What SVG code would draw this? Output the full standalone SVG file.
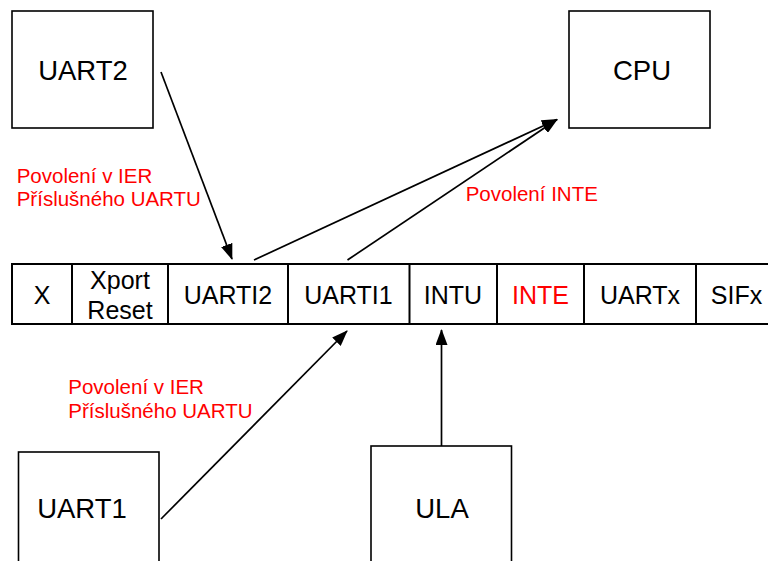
<svg xmlns="http://www.w3.org/2000/svg" width="768" height="561" viewBox="0 0 768 561">
<style>
.box{fill:#fff;stroke:#000;stroke-width:1.6}
.bar{fill:none;stroke:#000;stroke-width:2}
.t{font-family:"Liberation Sans",Arial,sans-serif;fill:#000;text-anchor:middle}
.big{font-size:27.5px}
.cell{font-size:25px}
.red{font-family:"Liberation Sans",Arial,sans-serif;fill:#ff0000;font-size:20.5px}
.conn{stroke:#000;stroke-width:1.7;fill:none}
</style>
<defs>
<marker id="ah" viewBox="0 0 16 12" refX="15" refY="6" markerWidth="16" markerHeight="12" markerUnits="userSpaceOnUse" orient="auto">
<path d="M0,0 L16,6 L0,12 z" fill="#000"/>
</marker>
</defs>
<rect width="768" height="561" fill="#fff"/>

<g id="uart2">
<rect class="box" x="12" y="11" width="141" height="117"/>
<text class="t big" x="83" y="80">UART2</text>
</g>
<g id="cpu">
<rect class="box" x="569" y="11" width="141" height="117"/>
<text class="t big" x="642" y="80">CPU</text>
</g>
<g id="uart1">
<rect class="box" x="18.5" y="452" width="140.5" height="120"/>
<text class="t big" x="82" y="518">UART1</text>
</g>
<g id="ula">
<rect class="box" x="371" y="446" width="140.5" height="126"/>
<text class="t big" x="442" y="518">ULA</text>
</g>

<g id="register">
<rect class="bar" x="12" y="264" width="770" height="60"/>
<line class="bar" x1="72" y1="264" x2="72" y2="324"/>
<line class="bar" x1="168" y1="264" x2="168" y2="324"/>
<line class="bar" x1="288" y1="264" x2="288" y2="324"/>
<line class="bar" x1="409.5" y1="264" x2="409.5" y2="324"/>
<line class="bar" x1="497" y1="264" x2="497" y2="324"/>
<line class="bar" x1="584" y1="264" x2="584" y2="324"/>
<line class="bar" x1="696" y1="264" x2="696" y2="324"/>
<text class="t cell" x="42" y="304">X</text>
<text class="t cell" x="120" y="289">Xport</text>
<text class="t cell" x="120" y="319">Reset</text>
<text class="t cell" x="228" y="304">UARTI2</text>
<text class="t cell" x="348.5" y="304">UARTI1</text>
<text class="t cell" x="453" y="304">INTU</text>
<text class="t cell" x="540.5" y="304" fill="#ff0000" style="fill:#ff0000">INTE</text>
<text class="t cell" x="640" y="304">UARTx</text>
<text class="t cell" x="736.5" y="304">SIFx</text>
</g>

<g id="connectors">
<line class="conn" x1="161" y1="72" x2="232" y2="259" marker-end="url(#ah)"/>
<line class="conn" x1="254" y1="260" x2="557" y2="119.5" marker-end="url(#ah)"/>
<line class="conn" x1="347.5" y1="260" x2="557" y2="119.5" marker-end="url(#ah)"/>
<line class="conn" x1="161" y1="519" x2="347" y2="331" marker-end="url(#ah)"/>
<line class="conn" x1="441.5" y1="446" x2="441.5" y2="330" marker-end="url(#ah)"/>
</g>

<g id="labels">
<text class="red" x="16.7" y="182.5">Povolení v IER</text>
<text class="red" x="16.7" y="205.5">Příslušného UARTU</text>
<text class="red" x="465.7" y="200.7">Povolení INTE</text>
<text class="red" x="68.3" y="394.3">Povolení v IER</text>
<text class="red" x="68.3" y="417.5">Příslušného UARTU</text>
</g>
</svg>
